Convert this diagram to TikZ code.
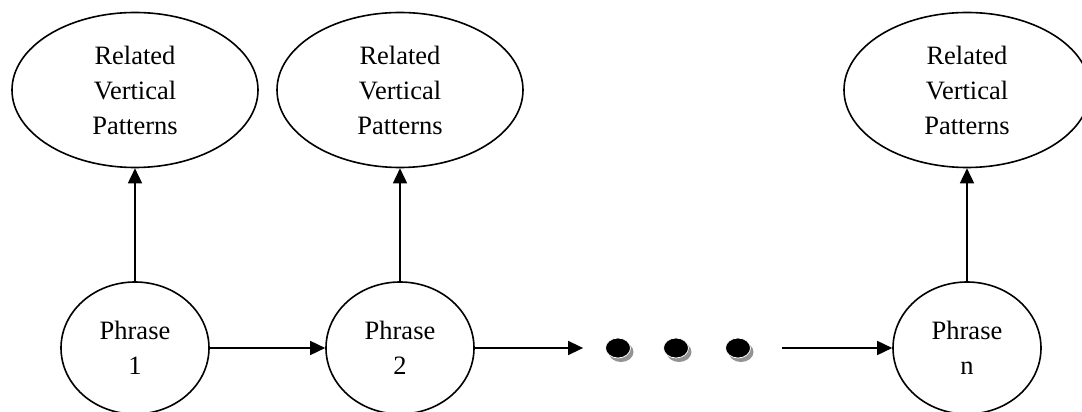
\documentclass[tikz,border=0pt]{standalone}
\usepackage{fontspec}
\setmainfont{Liberation Serif}
\usetikzlibrary{arrows.meta,shapes.geometric}

\begin{document}
\begin{tikzpicture}[x=0.5pt,y=0.5pt,
    every node/.style={ellipse,draw,line width=0.8pt,inner sep=0pt,align=center,
      font=\fontsize{13.25}{17.5}\selectfont},
    patt/.style={minimum width=123pt,minimum height=77.5pt},
    phr/.style={minimum width=74pt,minimum height=66pt},
    dot/.style={draw=white,line width=0.4pt,fill=black,minimum width=12.5pt,minimum height=10pt},
    shade/.style={draw=none,fill=gray!85,minimum width=12.5pt,minimum height=10pt},
    >={Triangle[length=7.5pt,width=7pt]}]
    \useasboundingbox (0,0) rectangle (1082,412);

    \node (r1) [patt] at (135,322) {Related\\Vertical\\Patterns};
    \node (r2) [patt] at (400,322) {Related\\Vertical\\Patterns};
    \node (rn) [patt] at (967,322) {Related\\Vertical\\Patterns};

    \node (p1) [phr] at (135,64) {Phrase\\1};
    \node (p2) [phr] at (400,64) {Phrase\\2};
    \node (pn) [phr] at (967,64) {Phrase\\n};

    \node (s1) [shade] at (621,60) {};
    \node (s2) [shade] at (679,60) {};
    \node (s3) [shade] at (741,60) {};
    \node (d1) [dot] at (618,64) {};
    \node (d2) [dot] at (676,64) {};
    \node (d3) [dot] at (738,64) {};

  \draw[->,line width=0.8pt] (p1) -- (r1);
  \draw[->,line width=0.8pt] (p2) -- (r2);
  \draw[->,line width=0.8pt] (pn) -- (rn);

  \draw[->,line width=0.8pt] (p1) -- (p2);
  \draw[->,line width=0.8pt,shorten >=11pt] (p2) -- (d1);
  \draw[->,line width=0.8pt,shorten <=15.75pt] (d3) -- (pn);
  \end{tikzpicture}
\end{document}
